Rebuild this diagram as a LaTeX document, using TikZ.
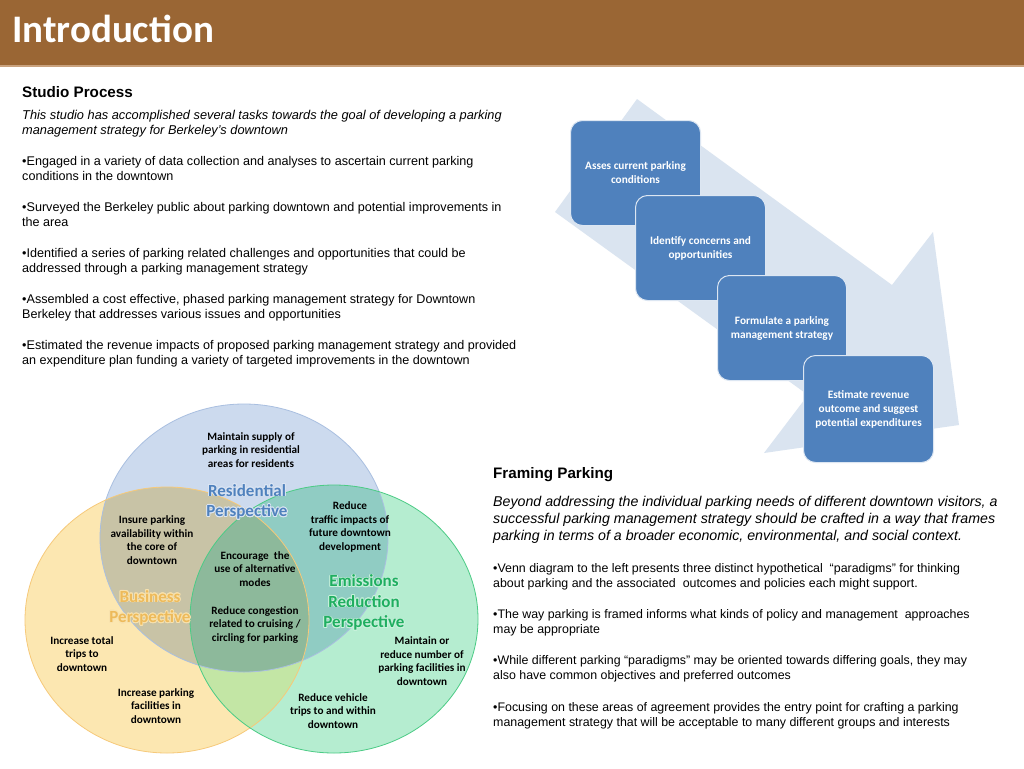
\documentclass[tikz,border=0pt]{standalone}
\usepackage{fontspec}
\usepackage[copies]{contour}
\contourlength{0.7pt}
\contournumber{16}
\setmainfont{Liberation Sans}
\newfontfamily\calfont{Carlito}
\definecolor{hdr}{HTML}{9A6634}
\definecolor{hdrline}{HTML}{C9A27E}
\definecolor{boxblue}{HTML}{4F81BD}
\definecolor{arrowfill}{HTML}{DAE4F0}
\definecolor{cB}{HTML}{CCDAEE}
\definecolor{cY}{HTML}{FCE7B1}
\definecolor{cG}{HTML}{B5EDD0}
\definecolor{cBY}{HTML}{C8C3A6}
\definecolor{cBG}{HTML}{90CCC3}
\definecolor{cYG}{HTML}{C3E6A5}
\definecolor{cBYG}{HTML}{8DB99B}
\definecolor{bB}{HTML}{A9BFE0}
\definecolor{bY}{HTML}{F6C97A}
\definecolor{bG}{HTML}{4BCB85}
\definecolor{tB}{HTML}{4F81BD}
\definecolor{tY}{HTML}{EDBA5A}
\definecolor{tG}{HTML}{1FAE60}
\definecolor{haloY}{HTML}{F8E2AE}
\definecolor{haloB}{HTML}{DCE6F4}
\definecolor{haloG}{HTML}{C8F2DC}
\tikzset{
  venntxt/.style={font=\calfont\bfseries\fontsize{11.2}{13.5}\selectfont, align=center, inner sep=0pt, text=black},
  lbl/.style={font=\calfont\bfseries\fontsize{17}{20.5}\selectfont, align=center, inner sep=0pt},
  stepbox/.style={draw=white!80!boxblue, line width=1pt, fill=boxblue, rounded corners=12pt,
     minimum width=130pt, minimum height=105pt, inner sep=0pt,
     font=\calfont\bfseries\fontsize{11.3}{14}\selectfont, text=white, align=center},
  body/.style={font=\fontsize{12.6}{15.33}\selectfont, align=left, inner sep=0pt, anchor=north west},
  bodyit/.style={font=\itshape\fontsize{12.8}{15.33}\selectfont, align=left, inner sep=0pt, anchor=north west},
  rbody/.style={font=\fontsize{12.4}{15.33}\selectfont, align=left, inner sep=0pt, anchor=north west},
  rbodyit/.style={font=\itshape\fontsize{14.2}{17}\selectfont, align=left, inner sep=0pt, anchor=north west},
  head/.style={font=\bfseries\fontsize{15.2}{17}\selectfont, inner sep=0pt, anchor=north west},
}
\begin{document}
\begin{tikzpicture}[x=1pt,y=-1pt]
\useasboundingbox (0,0) rectangle (1024,768);
\fill[white] (0,0) rectangle (1024,768);
% header
\fill[hdr] (0,0) rectangle (1024,65);
\fill[hdrline] (0,65) rectangle (1024,67);
\node[anchor=base west, inner sep=0pt, text=white, font=\calfont\bfseries\fontsize{39}{45}\selectfont] (title) at (12,43) {Introduction};

% left text
\node[head] (sp) at (22,86) {Studio Process};
\node[bodyit] (spi) at (22,110) {This studio has accomplished several tasks towards the goal of developing a parking\\management strategy for Berkeley's downtown};
\node[body] (b1) at (22,156) {•Engaged in a variety of data collection and analyses to ascertain current parking\\conditions in the downtown};
\node[body] (b2) at (22,202) {•Surveyed the Berkeley public about parking downtown and potential improvements in\\the area};
\node[body] (b3) at (22,248) {•Identified a series of parking related challenges and opportunities that could be\\addressed through a parking management strategy};
\node[body] (b4) at (22,294) {•Assembled a cost effective, phased parking management strategy for Downtown\\Berkeley that addresses various issues and opportunities};
\node[body] (b5) at (22,340) {•Estimated the revenue impacts of proposed parking management strategy and provided\\an expenditure plan funding a variety of targeted improvements in the downtown};

% process arrow
\fill[arrowfill] (637,99) -- (892,285) -- (933,232) -- (959,425) -- (764,453) -- (808,395) -- (555,212) -- cycle;
\node[stepbox, anchor=north west] (s1) at (570,120) {Asses current parking\\conditions};
\node[stepbox, anchor=north west] (s2) at (635,195) {Identify concerns and\\opportunities};
\node[stepbox, anchor=north west, minimum width=129pt] (s3) at (717,275) {Formulate a parking\\management strategy};
\node[stepbox, anchor=north west, minimum height=107pt] (s4) at (803,355) {Estimate revenue\\outcome and suggest\\potential expenditures};

% right text
\node[head] (fp) at (493,467) {Framing Parking};
\node[rbodyit] (fpi) at (493,496) {Beyond addressing the individual parking needs of different downtown visitors, a\\successful parking management strategy should be crafted in a way that frames\\parking in terms of a broader economic, environmental, and social context.};
\node[rbody] (r1) at (493,563) {•Venn diagram to the left presents three distinct hypothetical \ “paradigms” for thinking\\about parking and the associated \ outcomes and policies each might support.};
\node[rbody] (r2) at (493,609) {•The way parking is framed informs what kinds of policy and management \ approaches\\may be appropriate};
\node[rbody] (r3) at (493,655) {•While different parking “paradigms” may be oriented towards differing goals, they may\\also have common objectives and preferred outcomes};
\node[rbody] (r4) at (493,702) {•Focusing on these areas of agreement provides the entry point for crafting a parking\\management strategy that will be acceptable to many different groups and interests};

% Venn diagram
\fill[cB] (244,538) ellipse [x radius=144, y radius=134];
\fill[cY] (167,620) ellipse [x radius=142, y radius=133];
\fill[cG] (334,619) ellipse [x radius=144, y radius=134];
\begin{scope}
  \clip (244,538) ellipse [x radius=144, y radius=134];
  \fill[cBY] (167,620) ellipse [x radius=142, y radius=133];
  \fill[cBG] (334,619) ellipse [x radius=144, y radius=134];
\end{scope}
\begin{scope}
  \clip (334,619) ellipse [x radius=144, y radius=134];
  \fill[cYG] (167,620) ellipse [x radius=142, y radius=133];
\end{scope}
\begin{scope}
  \clip (244,538) ellipse [x radius=144, y radius=134];
  \clip (334,619) ellipse [x radius=144, y radius=134];
  \fill[cBYG] (167,620) ellipse [x radius=142, y radius=133];
\end{scope}
\draw[bB, line width=0.8pt] (244,538) ellipse [x radius=144, y radius=134];
\draw[bY, line width=0.8pt] (167,620) ellipse [x radius=142, y radius=133];
\draw[bG, line width=0.8pt] (334,619) ellipse [x radius=144, y radius=134];

\node[venntxt] (v1) at (251,450) {Maintain supply of\\parking in residential\\areas for residents};
\node[lbl, text=tB] (lr) at (247,502) {\contour{haloB}{Residential}\\\contour{haloB}{Perspective}};
\node[venntxt] (v2) at (152,540) {Insure parking\\availability within\\the core of\\downtown};
\node[venntxt] (v3) at (350,527) {Reduce\\traffic impacts of\\future downtown\\development};
\node[venntxt] (v4) at (255,569) {Encourage \ the\\use of alternative\\modes};
\node[lbl, text=tG] (le) at (364,603) {\contour{haloG}{Emissions}\\\contour{haloG}{Reduction}\\\contour{haloG}{Perspective}};
\node[lbl, text=tY] (lb) at (150,608) {\contour{haloY}{Business}\\\contour{haloY}{Perspective}};
\node[venntxt] (v5) at (255,625) {Reduce congestion\\related to cruising /\\circling for parking};
\node[venntxt] (v6) at (82,654) {Increase total\\trips to\\downtown};
\node[venntxt] (v7) at (422,661) {Maintain or\\reduce number of\\parking facilities in\\downtown};
\node[venntxt] (v8) at (156,706) {Increase parking\\facilities in\\downtown};
\node[venntxt] (v9) at (333,711) {Reduce vehicle\\trips to and within\\downtown};
\end{tikzpicture}
\end{document}
